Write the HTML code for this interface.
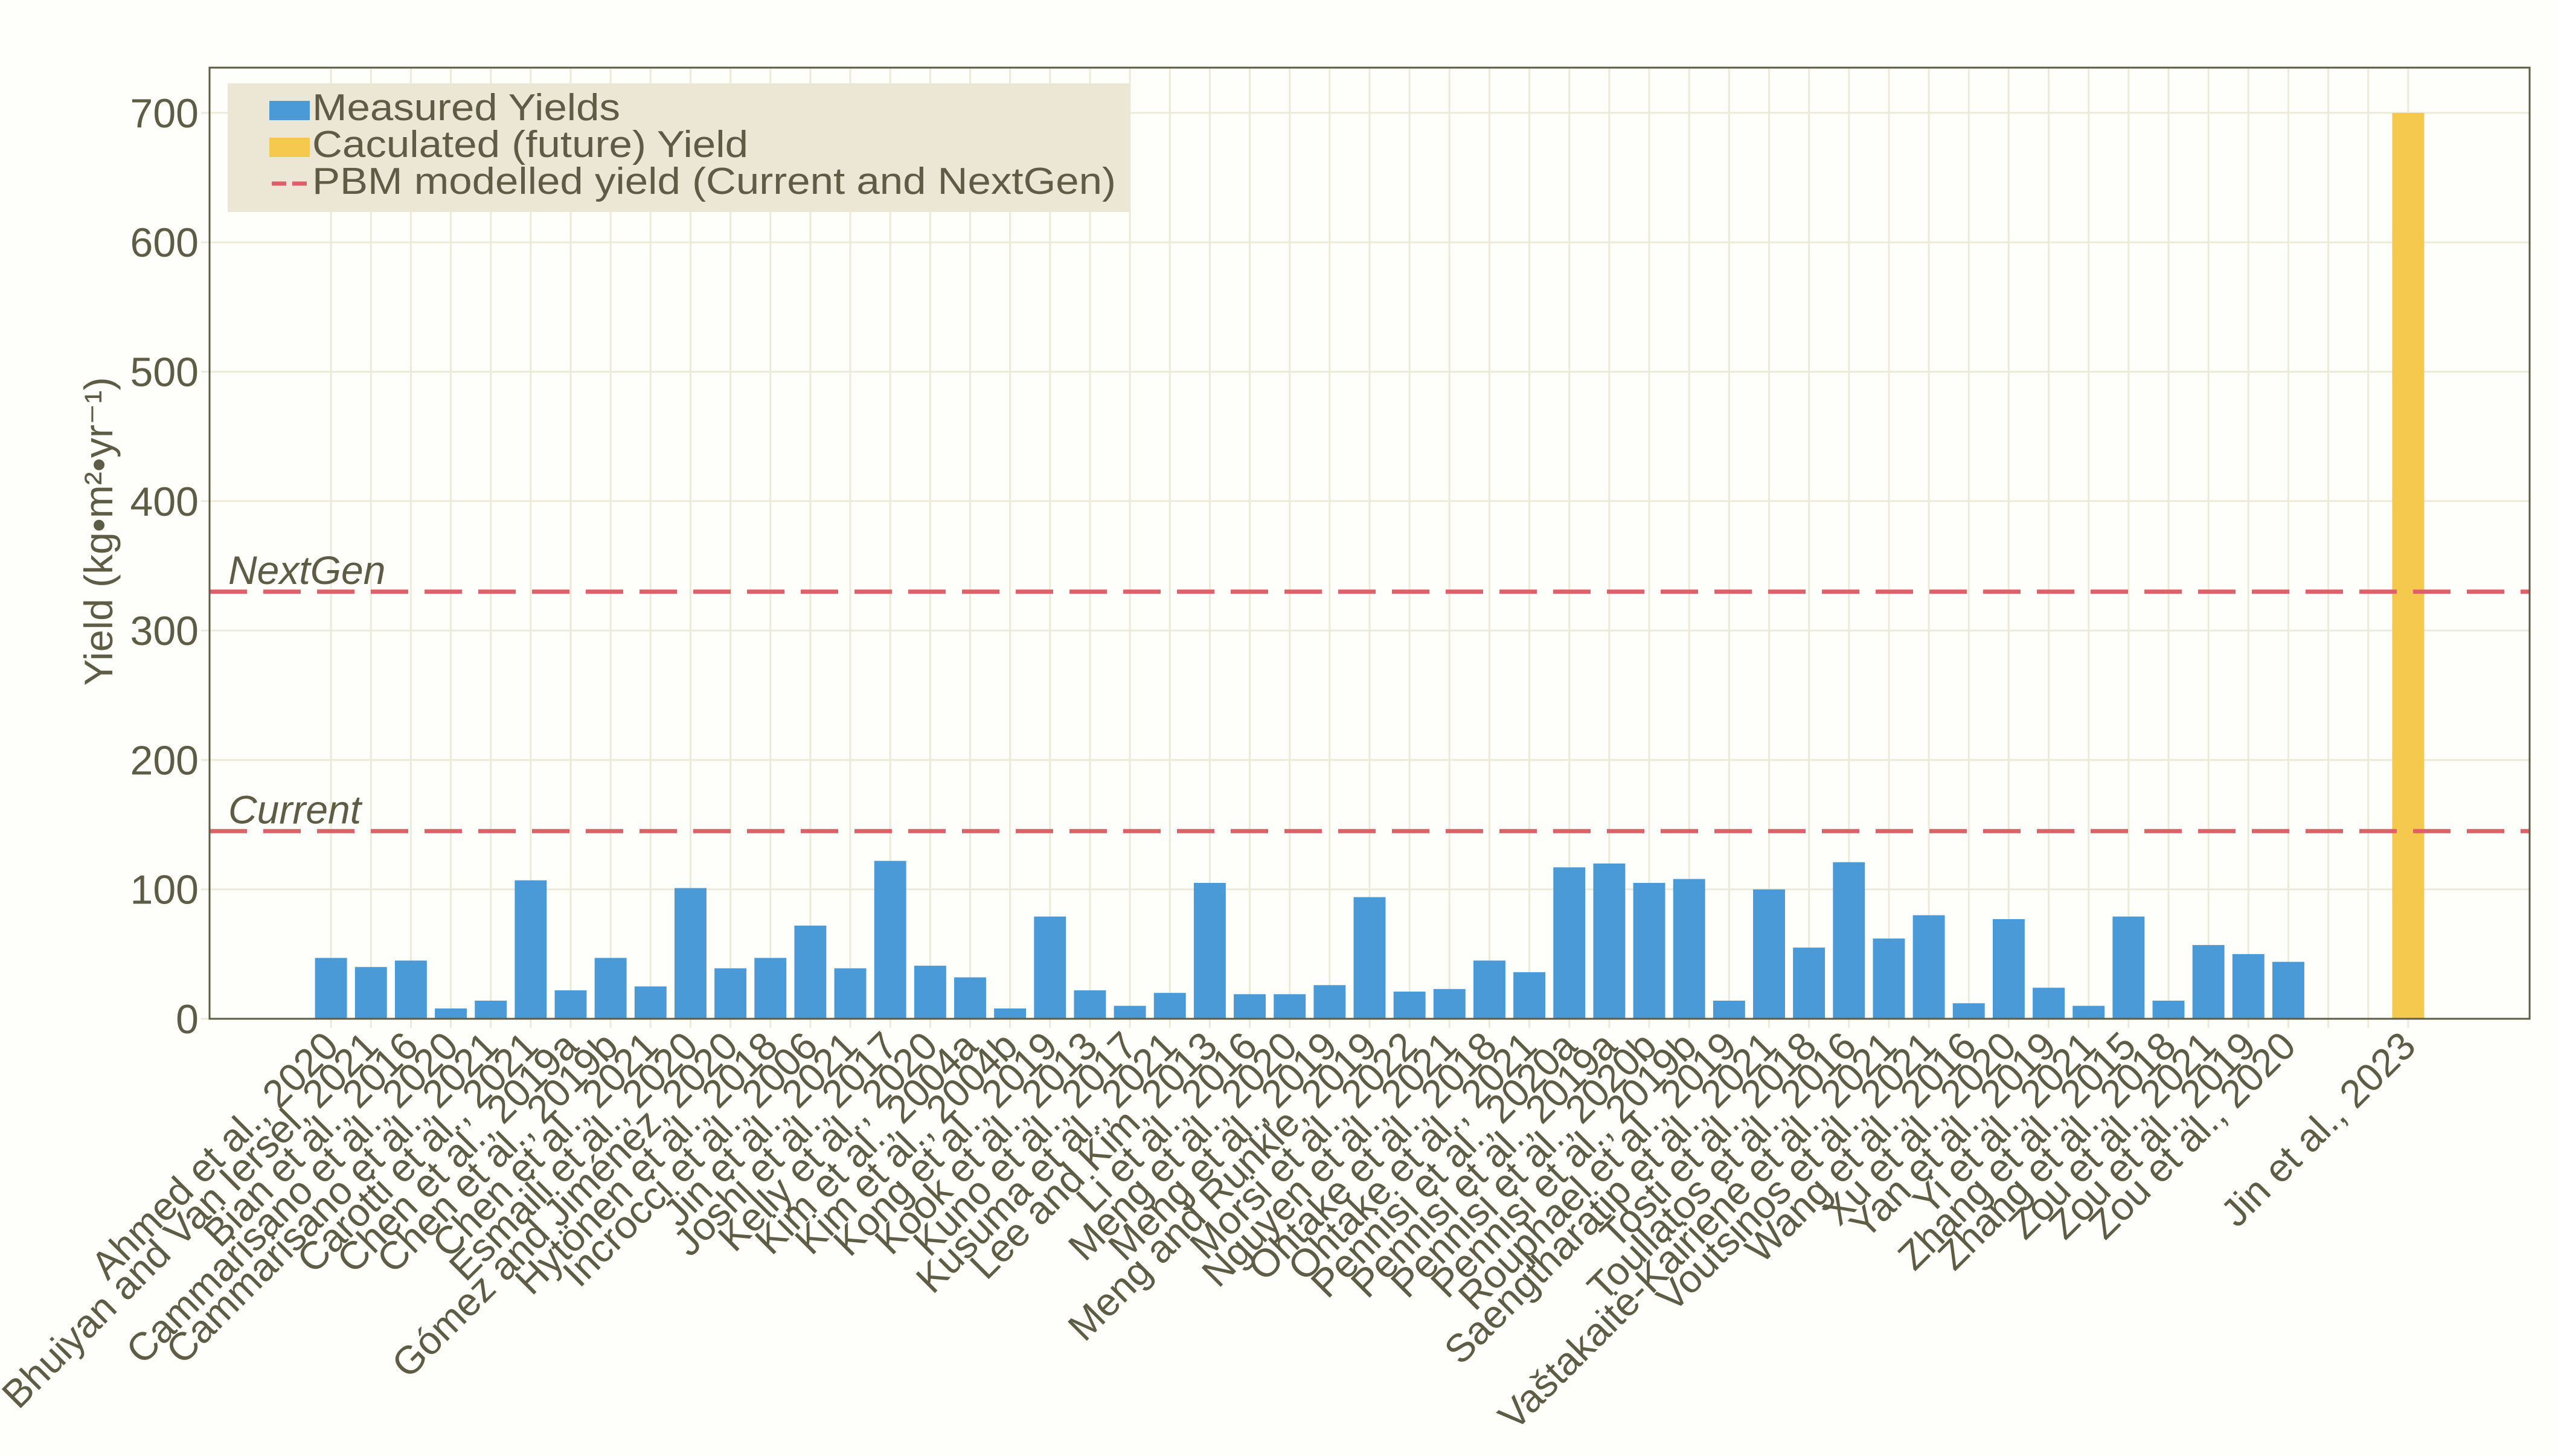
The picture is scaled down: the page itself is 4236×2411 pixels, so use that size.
<!DOCTYPE html>
<html><head><meta charset="utf-8"><style>
html,body{margin:0;padding:0;background:#fefefa;}
svg{display:block;font-family:"Liberation Sans",Arial,sans-serif;}
</style></head><body>
<svg id="chart" width="4236" height="2411" viewBox="0 0 4236 2411" xmlns="http://www.w3.org/2000/svg">
<rect x="0" y="0" width="4236" height="2411" fill="#fefefa"/>
<g id="grid"></g>
<g id="bars"></g>
<g id="lines"></g>
<g id="axes"></g>
<g id="xlabels"></g>
<g id="ylabels"></g>
<text transform="translate(186,880) rotate(-90)" text-anchor="middle" font-size="66" fill="#5f5c45">Yield (kg•m²•yr⁻¹)</text>
<g>
<rect x="377" y="138" width="1494" height="213" fill="#ece7d5"/>
<rect x="446" y="167" width="67" height="32" fill="#4a9ad8"/>
<text x="517" y="199" font-size="62" fill="#5f5c45" textLength="510" lengthAdjust="spacingAndGlyphs">Measured Yields</text>
<rect x="446" y="228" width="67" height="32" fill="#f5c94e"/>
<text x="517" y="260" font-size="62" fill="#5f5c45" textLength="722" lengthAdjust="spacingAndGlyphs">Caculated (future) Yield</text>
<line x1="450" y1="304" x2="513" y2="304" stroke="#e0606a" stroke-width="7" stroke-dasharray="24 10"/>
<text x="517" y="321" font-size="62" fill="#5f5c45" textLength="1331" lengthAdjust="spacingAndGlyphs">PBM modelled yield (Current and NextGen)</text>
</g>
</svg>
<script>
const categories = ["Ahmed et al., 2020","Bhuiyan and Van Iersel, 2021","Bian et al., 2016","Cammarisano et al., 2020","Cammarisano et al., 2021","Carotti et al., 2021","Chen et al., 2019a","Chen et al., 2019b","Chen et al., 2021","Esmaili et al., 2020","Gómez and Jiménez, 2020","Hytönen et al., 2018","Incrocci et al., 2006","Jin et al., 2021","Joshi et al., 2017","Kelly et al., 2020","Kim et al., 2004a","Kim et al., 2004b","Kong et al., 2019","Kook et al., 2013","Kuno et al., 2017","Kusuma et al., 2021","Lee and Kim, 2013","Li et al., 2016","Meng et al., 2020","Meng et al., 2019","Meng and Runkle, 2019","Morsi et al., 2022","Nguyen et al., 2021","Ohtake et al., 2018","Ohtake et al., 2021","Pennisi et al., 2020a","Pennisi et al., 2019a","Pennisi et al., 2020b","Pennisi et al., 2019b","Rouphael et al., 2019","Saengtharatip et al., 2021","Tosti et al., 2018","Toullatos et al., 2016","Vaštakaitė-Kairienė et al., 2021","Voutsinos et al., 2021","Wang et al., 2016","Xu et al., 2020","Yan et al., 2019","Yi et al., 2021","Zhang et al., 2015","Zhang et al., 2018","Zou et al., 2021","Zou et al., 2019","Zou et al., 2020"];
const measured = [47,40,45,8,14,107,22,47,25,101,39,47,72,39,122,41,32,8,79,22,10,20,105,19,19,26,94,21,23,45,36,117,120,105,108,14,100,55,121,62,80,12,77,24,10,79,14,57,50,44];
const futureCategories = ["Jin et al., 2023"];
const future = [700];
const futureSlot = [52];
const refLabels = ["Current","NextGen"];
const refValues = [145,330];
const yTicks = [0,100,200,300,400,500,600,700];

const NS="http://www.w3.org/2000/svg";
const L=347, R=4189, T=112, B=1687;
const xMin=-3.04, xMax=55.04, yMax=(B-T)/214.3*100;
const sx=v=>L+(v-xMin)/(xMax-xMin)*(R-L);
const sy=v=>B-v/yMax*(B-T);
const slot=(R-L)/(xMax-xMin);
const ink="#5f5c45", gridC="#ecebd9";
function mk(tag,attrs,parent){const e=document.createElementNS(NS,tag);for(const k in attrs)e.setAttribute(k,attrs[k]);parent.appendChild(e);return e;}
const grid=document.getElementById('grid'),bars=document.getElementById('bars'),lines=document.getElementById('lines'),axes=document.getElementById('axes'),xl=document.getElementById('xlabels'),yl=document.getElementById('ylabels');

yTicks.forEach(t=>{
  const g=mk('line',{x1:L-14,x2:R,y1:sy(t),y2:sy(t),stroke:gridC,'stroke-width':3},grid);
  
  
  const tx=mk('text',{x:329,y:sy(t)+24,'text-anchor':'end','font-size':68,fill:ink},yl);
  tx.textContent=t;
  
  
});
const lastSlot=futureSlot[futureSlot.length-1];
for(let i=0;i<=lastSlot;i++){
  const g=mk('line',{x1:sx(i),x2:sx(i),y1:T,y2:B+15,stroke:gridC,'stroke-width':3},grid);
  
  
}
const bw=slot*0.8;
measured.forEach((v,i)=>{
  const r=mk('rect',{x:sx(i)-bw/2,y:sy(v),width:bw,height:B-sy(v),fill:'#4a9ad8'},bars);
  
  
});
future.forEach((v,i)=>{
  const r=mk('rect',{x:sx(futureSlot[i])-bw/2,y:sy(v),width:bw,height:B-sy(v),fill:'#f5c94e'},bars);
  
  
});
refValues.forEach((v,i)=>{
  const l=mk('line',{x1:L,x2:R,y1:sy(v),y2:sy(v),stroke:'#e0606a','stroke-width':7,'stroke-dasharray':'62 27'},lines);
  
  
  const t=mk('text',{x:378,y:sy(v)-13,'font-size':66,'font-style':'italic',fill:ink},lines);
  t.textContent=refLabels[i];
  
  
});
const frame=mk('rect',{x:L,y:T,width:R-L,height:B-T,fill:'none',stroke:ink,'stroke-width':3},axes);


function xlabel(text,i){
  const ex=sx(i)+16, ey=1736;
  const t=mk('text',{x:ex,y:ey,'text-anchor':'end','font-size':65,fill:ink,transform:`rotate(-45 ${ex} ${ey})`},xl);
  t.textContent=text;
  
  
}
categories.forEach((c,i)=>xlabel(c,i));
futureCategories.forEach((c,i)=>xlabel(c,futureSlot[i]));
</script>
</body></html>
